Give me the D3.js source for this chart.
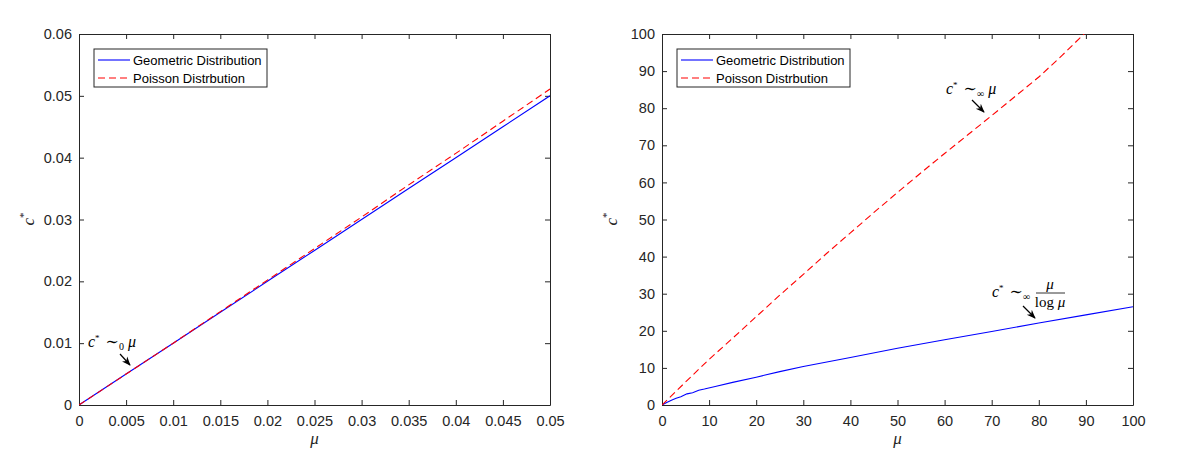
<!DOCTYPE html>
<html><head><meta charset="utf-8">
<script src="https://cdn.jsdelivr.net/npm/d3@7/dist/d3.min.js"></script>
<style>
body{margin:0;background:#fff;}
svg{display:block;}
</style></head>
<body>
<svg id="chart" width="1191" height="456"></svg>
<script>
// ---- data ----
const seriesNames = ["Geometric Distribution", "Poisson Distrbution"];
// left panel (small mu)
const muSmall = [0, 0.005, 0.01, 0.015, 0.02, 0.025, 0.03, 0.035, 0.04, 0.045, 0.05];
const geoSmall = [0, 0.005, 0.010, 0.015, 0.0200, 0.0250, 0.0300, 0.0350, 0.0400, 0.0450, 0.0500];
const poiSmall = [0, 0.005, 0.010, 0.0151, 0.0202, 0.0253, 0.0304, 0.0356, 0.0407, 0.0459, 0.0511];
const xTicksSmall = [0, 0.005, 0.01, 0.015, 0.02, 0.025, 0.03, 0.035, 0.04, 0.045, 0.05];
const yTicksSmall = [0, 0.01, 0.02, 0.03, 0.04, 0.05, 0.06];
// right panel (large mu)
const muGeoLarge = [0, 1, 2, 3, 4, 5.3, 6.5, 7.8, 9, 11.3, 15, 20, 25, 30, 40, 50, 60, 70, 80, 90, 100];
const geoLarge = [0, 0.7, 1.3, 1.8, 2.2, 3.0, 3.3, 4.0, 4.3, 5.0, 6.1, 7.5, 9.0, 10.4, 12.8, 15.3, 17.6, 19.8, 22.1, 24.3, 26.5];
const muPoiLarge = [0, 5, 10, 15, 20, 25, 30, 35, 40, 45, 50, 55, 60, 65, 70, 75, 80, 85, 90, 95];
const poiLarge = [0, 6.2, 12.3, 18, 23.8, 29.6, 35.2, 40.9, 46.4, 51.9, 57.3, 62.6, 67.8, 72.9, 78.0, 83.2, 88.4, 94.3, 100.5, 106];
const xTicksLarge = [0, 10, 20, 30, 40, 50, 60, 70, 80, 90, 100];
const yTicksLarge = [0, 10, 20, 30, 40, 50, 60, 70, 80, 90, 100];

const svg = d3.select("#chart");
const axisColor = "#262626";
const sans = "'Liberation Sans',Arial,sans-serif";
const serif = "'Liberation Serif','DejaVu Serif',serif";

const defs = svg.append("defs");
const marker = defs.append("marker").attr("id","arrow").attr("viewBox","0 0 10 10")
  .attr("refX",9).attr("refY",5).attr("markerWidth",9).attr("markerHeight",9)
  .attr("orient","auto-start-reverse").attr("markerUnits","userSpaceOnUse");
marker.append("path").attr("d","M0,1 L10,5 L0,9 L3,5 Z").attr("fill","#000");

function panel(cfg){
  const {x0,x1,y0,y1,xDom,yDom,xTicks,yTicks,xFmt,yFmt,series,legendX,id} = cfg;
  const x = d3.scaleLinear().domain(xDom).range([x0,x1]);
  const y = d3.scaleLinear().domain(yDom).range([y1,y0]);
  const g = svg.append("g");
  defs.append("clipPath").attr("id",id).append("rect")
    .attr("x",x0).attr("y",y0).attr("width",x1-x0).attr("height",y1-y0);

  const bottom = g.append("g").attr("transform",`translate(0,${y1})`)
    .call(d3.axisBottom(x).tickValues(xTicks).tickFormat(xFmt).tickSizeInner(-5).tickSizeOuter(0).tickPadding(11));
  const top = g.append("g").attr("transform",`translate(0,${y0})`)
    .call(d3.axisTop(x).tickValues(xTicks).tickFormat("").tickSizeInner(-5).tickSizeOuter(0));
  const left = g.append("g").attr("transform",`translate(${x0},0)`)
    .call(d3.axisLeft(y).tickValues(yTicks).tickFormat(yFmt).tickSizeInner(-5).tickSizeOuter(0).tickPadding(7));
  const right = g.append("g").attr("transform",`translate(${x1},0)`)
    .call(d3.axisRight(y).tickValues(yTicks).tickFormat("").tickSizeInner(-5).tickSizeOuter(0));
  [bottom,top,left,right].forEach(a=>{
    a.attr("font-family",sans).attr("font-size",14.5);
    a.select(".domain").attr("stroke",axisColor).attr("stroke-width",1);
    a.selectAll(".tick line").attr("stroke",axisColor);
    a.selectAll(".tick text").attr("fill",axisColor);
  });

  const lineGen = d3.line().x(d=>x(d[0])).y(d=>y(d[1]));
  const lg = g.append("g").attr("clip-path",`url(#${id})`);
  series.forEach(s=>{
    lg.append("path").datum(s.xs.map((v,i)=>[v,s.ys[i]]))
      .attr("d",lineGen).attr("fill","none").attr("stroke",s.color)
      .attr("stroke-width",1.1).attr("stroke-dasharray",s.dash||null);
  });

  // legend
  const leg = g.append("g");
  leg.append("rect").attr("x",legendX).attr("y",49).attr("width",173).attr("height",38)
    .attr("fill","#fff").attr("stroke",axisColor).attr("stroke-width",1);
  series.forEach((s,i)=>{
    const yy = 60 + i*18;
    leg.append("line").attr("x1",legendX+4).attr("x2",legendX+36).attr("y1",yy).attr("y2",yy)
      .attr("stroke",s.color).attr("stroke-width",1.1).attr("stroke-dasharray",s.dash||null);
    leg.append("text").attr("x",legendX+39).attr("y",yy+5).text(s.name)
      .attr("font-family",sans).attr("font-size",13).attr("fill","#000");
  });

  // axis labels
  g.append("text").attr("x",(x0+x1)/2).attr("y",444).attr("text-anchor","middle")
    .attr("font-family",serif).attr("font-style","italic")
    .attr("font-size",17).attr("fill",axisColor).text("μ");
  const cl = g.append("text").attr("transform",`translate(${x0-45},${(y0+y1)/2+6}) rotate(-90)`)
    .attr("font-family",serif).attr("font-style","italic")
    .attr("font-size",17).attr("fill",axisColor);
  cl.append("tspan").text("c");
  cl.append("tspan").attr("dy",-7).attr("font-size",11).attr("font-style","normal").text("*");
  return {x,y,g};
}

const colors = {geo:"#0000ff", poi:"#ff0000"};

const L = panel({id:"clipL",x0:79,x1:550,y0:34,y1:405,xDom:[0,0.05],yDom:[0,0.06],
  xTicks:xTicksSmall,yTicks:yTicksSmall,xFmt:d3.format("~g"),yFmt:d3.format("~g"),legendX:94,
  series:[{name:seriesNames[0],xs:muSmall,ys:geoSmall,color:colors.geo},
          {name:seriesNames[1],xs:muSmall,ys:poiSmall,color:colors.poi,dash:"7,4"}]});
const R = panel({id:"clipR",x0:662,x1:1133,y0:34,y1:405,xDom:[0,100],yDom:[0,100],
  xTicks:xTicksLarge,yTicks:yTicksLarge,xFmt:d3.format("~g"),yFmt:d3.format("~g"),legendX:677,
  series:[{name:seriesNames[0],xs:muGeoLarge,ys:geoLarge,color:colors.geo},
          {name:seriesNames[1],xs:muPoiLarge,ys:poiLarge,color:colors.poi,dash:"7,4"}]});

// annotations
function asymp(g, xPos, yPos, sub, rest){
  const t = g.append("text").attr("x",xPos).attr("y",yPos)
    .attr("font-family",serif).attr("font-size",16).attr("fill","#000");
  t.append("tspan").attr("font-style","italic").text("c");
  t.append("tspan").attr("dy",-6).attr("font-size",9).text("*");
  t.append("tspan").attr("dy",6).attr("dx",6).text("∼");
  t.append("tspan").attr("dy",3).attr("font-size",10).text(sub);
  t.append("tspan").attr("dy",-3).attr("dx",4).attr("font-style","italic").text(rest);
  return t;
}
function arrow(g,xa,ya,xb,yb){
  g.append("line").attr("x1",xa).attr("y1",ya).attr("x2",xb).attr("y2",yb)
    .attr("stroke","#000").attr("stroke-width",1.2).attr("marker-end","url(#arrow)");
}
asymp(L.g, 88, 347, "0", "μ");
arrow(L.g, 120, 354, 130, 365);

asymp(R.g, 946, 94, "∞", "μ");
arrow(R.g, 972, 100, 984, 112);

asymp(R.g, 992, 297, "∞", "");
const fx = 1050;
R.g.append("text").attr("x",fx).attr("y",289).attr("text-anchor","middle")
  .attr("font-family",serif).attr("font-style","italic")
  .attr("font-size",15).text("μ");
R.g.append("line").attr("x1",1036).attr("x2",1065).attr("y1",293).attr("y2",293).attr("stroke","#000").attr("stroke-width",0.8);
const lt = R.g.append("text").attr("x",fx).attr("y",307).attr("text-anchor","middle")
  .attr("font-family",serif).attr("font-size",15);
lt.append("tspan").text("log ");
lt.append("tspan").attr("font-style","italic").text("μ");
arrow(R.g, 1023, 306, 1035, 318);
</script>
</body></html>
